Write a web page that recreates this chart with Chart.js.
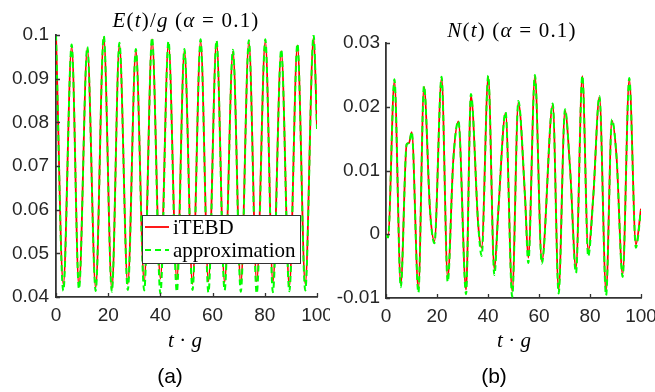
<!DOCTYPE html>
<html>
<head>
<meta charset="utf-8">
<script src="https://cdn.jsdelivr.net/npm/chart.js@4.4.0/dist/chart.umd.min.js"></script>
<style>
    body { margin: 0; background: #fff; }
    #wrap { position: relative; width: 655px; height: 392px; background: #fff; overflow: hidden; }
    canvas { position: absolute; top: 0; }
    .lbl { position: absolute; transform: translate(-50%, -50%); white-space: nowrap; color: #000; }
    .math { font-family: "Liberation Serif", serif; font-size: 21px; }
    .ttl { letter-spacing: 1.2px; }
    .cap { font-family: "Liberation Sans", Arial, sans-serif; font-size: 21px; color: #000; }
</style>
</head>
<body>
<div id="wrap">
    <canvas id="chartE" width="330" height="392" style="left:0"></canvas>
    <canvas id="chartN" width="325" height="392" style="left:330px"></canvas>
    <div class="lbl math ttl" style="left:186px;top:20px"><i>E</i>(<i>t</i>)/<i>g</i> (<i>α</i> = 0.1)</div>
    <div class="lbl math ttl" style="left:512px;top:30px"><i>N</i>(<i>t</i>) (<i>α</i> = 0.1)</div>
    <div class="lbl math" style="left:185px;top:340px"><i>t</i> · <i>g</i></div>
    <div class="lbl math" style="left:514px;top:340px"><i>t</i> · <i>g</i></div>
    <div class="lbl cap" style="left:170px;top:376px">(a)</div>
    <div class="lbl cap" style="left:494px;top:376px">(b)</div>
</div>
<script>
// panel (a): energy density, extrema
const tE = [0, 2.8, 6.0, 8.8, 12.0, 15.2, 18.3, 21.4, 24.3, 27.5, 30.6, 33.8, 36.8, 40.0, 43.1, 46.3, 49.2,
    52.3, 55.4, 58.4, 61.5, 64.6, 67.8, 70.8, 73.9, 76.9, 80.2, 83.1, 86.3, 89.4, 92.5, 95.5, 98.7, 100];
const eITEBD = [0.1, 0.0429, 0.0974, 0.0424, 0.0969, 0.0421, 0.0994, 0.0418, 0.0978, 0.0430, 0.0964, 0.0436,
    0.0990, 0.0442, 0.0982, 0.0440, 0.0964, 0.0430, 0.0986, 0.0436, 0.0984, 0.0434, 0.0962, 0.0430, 0.0984,
    0.0436, 0.0986, 0.0434, 0.0963, 0.0424, 0.0976, 0.0430, 0.0995, 0.0788];
const eApprox = [0.1, 0.0414, 0.0978, 0.0418, 0.0973, 0.0414, 0.0998, 0.0412, 0.0982, 0.0416, 0.0968, 0.0415,
    0.0994, 0.0408, 0.0986, 0.0412, 0.0968, 0.0416, 0.0990, 0.0410, 0.0988, 0.0415, 0.0966, 0.0412, 0.0988,
    0.0408, 0.0990, 0.0411, 0.0967, 0.0413, 0.0980, 0.0415, 0.1, 0.0785];

// panel (b): N(t)
const tN = [0, 0.8, 3.3, 5.8, 8.1, 9.0, 10.1, 12.7, 14.9, 17.3, 19.0, 21.8, 24.2, 26.4, 28.4, 31.4, 33.3,
    36.2, 37.5, 40.1, 42.5, 44.0, 46.9, 49.5, 51.9, 54.5, 55.8, 58.4, 61.1, 65.4, 67.7, 70.2, 72.2, 74.5,
    77.0, 79.3, 81.3, 83.7, 86.3, 88.6, 90.4, 92.8, 95.4, 98.0, 100];
const nITEBD = [0.0000, -0.0003, 0.0240, -0.0078, 0.0141, 0.0143, 0.0160, -0.0086, 0.0231, 0.0035, -0.0011,
    0.0245, -0.0068, 0.0117, 0.0177, -0.0087, 0.0218, 0.0013, -0.0021, 0.0247, -0.0055, 0.0034, 0.0190,
    -0.0089, 0.0207, 0.0060, -0.0037, 0.0248, -0.0042, 0.0203, -0.0087, 0.0194, 0.0102, -0.0053, 0.0248,
    -0.0026, 0.0060, 0.0215, -0.0089, 0.0178, 0.0122, -0.0063, 0.0243, -0.0016, 0.0040];
const nApprox = [0.0000, -0.0005, 0.0243, -0.0083, 0.0141, 0.0143, 0.0161, -0.0092, 0.0233, 0.0035, -0.0014,
    0.0247, -0.0075, 0.0117, 0.0178, -0.0094, 0.0220, 0.0013, -0.0034, 0.0249, -0.0064, 0.0034, 0.0192,
    -0.0098, 0.0209, 0.0060, -0.0045, 0.0250, -0.0046, 0.0205, -0.0093, 0.0196, 0.0102, -0.0061, 0.0249,
    -0.0035, 0.0060, 0.0217, -0.0096, 0.0180, 0.0122, -0.0067, 0.0245, -0.0021, 0.0038];

const seriesNames = ["iTEBD", "approximation"];

const axisColor = "#333333";
const redColor = "#ff0000";
const greenColor = "#00ff00";

// matlab style ticks pointing into the plot
const inwardTicks = {
    id: "inwardTicks",
    afterDatasetsDraw(chart) {
        const ctx = chart.ctx;
        const a = chart.chartArea;
        ctx.save();
        ctx.strokeStyle = axisColor;
        ctx.lineWidth = 1.3;
        ctx.beginPath();
        chart.scales.x.ticks.forEach(t => {
            const px = Math.round(chart.scales.x.getPixelForValue(t.value)) + 0.5;
            ctx.moveTo(px, a.bottom);
            ctx.lineTo(px, a.bottom - 4);
        });
        chart.scales.y.ticks.forEach(t => {
            const py = Math.round(chart.scales.y.getPixelForValue(t.value)) + 0.5;
            ctx.moveTo(a.left, py);
            ctx.lineTo(a.left + 4, py);
        });
        ctx.stroke();
        ctx.restore();
    }
};

// boxed legend inside panel (a)
const legendBox = {
    id: "legendBox",
    afterDraw(chart) {
        const ctx = chart.ctx;
        const a = chart.chartArea;
        const w = 158, h = 48;
        const x0 = a.right - 17 - w;
        const y0 = a.bottom - 34 - h;
        ctx.save();
        ctx.fillStyle = "#fff";
        ctx.fillRect(x0, y0, w, h);
        ctx.strokeStyle = axisColor;
        ctx.lineWidth = 1;
        ctx.strokeRect(Math.round(x0) + 0.5, Math.round(y0) + 0.5, w, h);
        ctx.font = "21px 'Liberation Serif', serif";
        ctx.textBaseline = "middle";
        ctx.fillStyle = "#000";
        chart.data.datasets.slice().reverse().forEach((ds, i) => {
            const cy = y0 + 12 + i * 23;
            ctx.strokeStyle = ds.borderColor;
            ctx.lineWidth = ds.borderWidth;
            ctx.setLineDash(ds.borderDash || []);
            ctx.beginPath();
            ctx.moveTo(x0 + 3, cy);
            ctx.lineTo(x0 + 27, cy);
            ctx.stroke();
            ctx.setLineDash([]);
            ctx.fillText(ds.label, x0 + 31, cy + 1);
        });
        ctx.restore();
    }
};

function toPoints(ts, ys) {
    return ts.map((t, i) => ({ x: t, y: ys[i] }));
}

function tickText(v) {
    return String(Math.round(v * 100) / 100);
}

function makePanel(id, ts, red, green, yMin, yMax, pad, yPad, plugins) {
    const ctx = document.getElementById(id).getContext("2d");
    return new Chart(ctx, {
        type: "line",
        data: {
            datasets: [
                {
                    label: seriesNames[1],
                    data: toPoints(ts, green),
                    borderColor: greenColor,
                    borderWidth: 2,
                    borderDash: [6, 4],
                    pointRadius: 0,
                    cubicInterpolationMode: "monotone",
                    fill: false,
                    order: 1
                },
                {
                    label: seriesNames[0],
                    data: toPoints(ts, red),
                    borderColor: redColor,
                    borderWidth: 1.8,
                    pointRadius: 0,
                    cubicInterpolationMode: "monotone",
                    fill: false,
                    order: 2
                }
            ]
        },
        options: {
            responsive: false,
            animation: false,
            layout: { padding: pad },
            plugins: { legend: { display: false }, tooltip: { enabled: false } },
            scales: {
                x: {
                    type: "linear",
                    min: 0,
                    max: 100,
                    grid: { display: false, drawTicks: false },
                    border: { display: true, color: axisColor, width: 1.8 },
                    ticks: {
                        stepSize: 20,
                        maxRotation: 0,
                        padding: 7,
                        color: "#262626",
                        font: { family: "'Liberation Sans', Arial, sans-serif", size: 19 }
                    },
                    afterFit(scale) {
                        scale.height = 30;
                        scale.paddingLeft = 0;
                        scale.paddingRight = 0;
                    }
                },
                y: {
                    min: yMin,
                    max: yMax,
                    grid: { display: false, drawTicks: false },
                    border: { display: true, color: axisColor, width: 1.8 },
                    ticks: {
                        stepSize: 0.01,
                        padding: yPad,
                        color: "#262626",
                        callback: tickText,
                        font: { family: "'Liberation Sans', Arial, sans-serif", size: 19 }
                    },
                    afterFit(scale) {
                        scale.width = 56;
                        scale.paddingTop = 0;
                        scale.paddingBottom = 0;
                    }
                }
            }
        },
        plugins: plugins
    });
}

makePanel("chartE", tE, eITEBD, eApprox, 0.04, 0.1,
    { left: 0, right: 13, top: 35, bottom: 65 }, 7, [inwardTicks, legendBox]);
makePanel("chartN", tN, nITEBD, nApprox, -0.01, 0.03,
    { left: 0, right: 14, top: 43, bottom: 64 }, 6, [inwardTicks]);
</script>
</body>
</html>
